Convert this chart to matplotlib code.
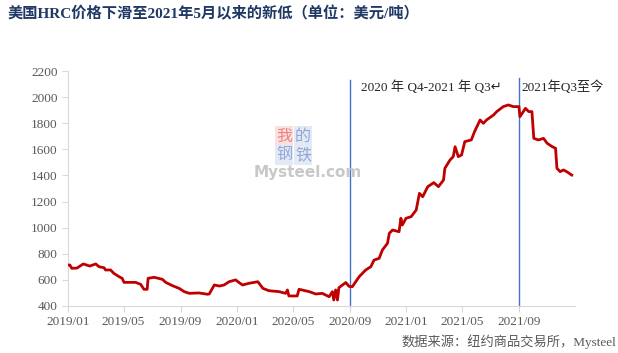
import matplotlib
matplotlib.use("Agg")
import matplotlib.pyplot as plt
import matplotlib.dates as mdates
import pandas as pd

# ---- data ----
dates = ["2019-01-01","2019-01-05","2019-01-09","2019-01-20","2019-02-03","2019-02-17","2019-03-02",
         "2019-03-09","2019-03-20","2019-03-23","2019-04-03","2019-04-10","2019-04-21","2019-04-28",
         "2019-05-02","2019-05-27","2019-06-07","2019-06-14","2019-06-21","2019-06-23","2019-07-06",
         "2019-07-24","2019-07-31","2019-08-15","2019-08-29","2019-09-09","2019-09-20","2019-10-11",
         "2019-10-29","2019-11-02","2019-11-13","2019-11-24","2019-12-04","2019-12-15","2019-12-29",
         "2020-01-06","2020-01-13","2020-01-27","2020-02-15","2020-02-26","2020-03-10","2020-04-01",
         "2020-04-15","2020-04-19","2020-04-22","2020-05-10","2020-05-14","2020-06-05","2020-06-19",
         "2020-07-03","2020-07-18","2020-07-25","2020-07-28","2020-08-01","2020-08-05","2020-08-08",
         "2020-08-23","2020-08-30","2020-09-06","2020-09-21","2020-10-05","2020-10-16","2020-10-23",
         "2020-11-03","2020-11-10","2020-11-21","2020-11-25","2020-12-02","2020-12-16","2020-12-20",
         "2020-12-23","2020-12-31","2021-01-11","2021-01-22","2021-01-29","2021-02-05","2021-02-16",
         "2021-03-01","2021-03-11","2021-03-22","2021-03-25","2021-04-05","2021-04-12","2021-04-16",
         "2021-04-23","2021-04-30","2021-05-07","2021-05-21","2021-05-28","2021-06-09","2021-06-16",
         "2021-06-23","2021-07-08","2021-07-15","2021-07-29","2021-08-09","2021-08-20","2021-09-01",
         "2021-09-03","2021-09-08","2021-09-15","2021-09-22","2021-09-29","2021-10-03","2021-10-13",
         "2021-10-24","2021-11-01","2021-11-12","2021-11-19","2021-11-22","2021-11-29","2021-12-06",
         "2021-12-13","2021-12-24"]
prices = [714,714,689,690,722,706,722,
          701,693,676,676,650,625,612,
          581,581,566,528,528,612,620,
          604,581,555,535,510,497,500,
          490,492,561,553,561,586,600,
          578,561,574,586,535,517,510,
          497,523,477,477,528,510,492,
          497,471,510,446,523,446,540,
          580,550,548,625,676,701,752,
          765,829,880,957,982,969,1072,
          1020,1072,1084,1135,1263,1237,1314,
          1345,1314,1365,1455,1518,1544,1620,
          1544,1557,1659,1672,1735,1825,1799,
          1825,1863,1889,1927,1940,1927,1927,
          1850,1876,1914,1889,1889,1684,1672,
          1684,1646,1620,1608,1455,1429,1442,
          1429,1403]
divider_dates = ["2020-09-01", "2021-09-01"]
period_labels = ["2020 年 Q4-2021 年 Q3↵", "2021年Q3至今"]
yticks = [400, 600, 800, 1000, 1200, 1400, 1600, 1800, 2000, 2200]
xtick_dates = ["2019-01-01","2019-05-01","2019-09-01","2020-01-01","2020-05-01",
               "2020-09-01","2021-01-01","2021-05-01","2021-09-01"]
title = "美国HRC价格下滑至2021年5月以来的新低（单位：美元/吨）"
source = "数据来源：纽约商品交易所，Mysteel"

serif = ["Liberation Serif", "Noto Sans CJK SC", "DejaVu Sans"]
plt.rcParams['font.family'] = serif

W, H = 618, 353
fig = plt.figure(figsize=(W/100, H/100), dpi=100)
ax = fig.add_axes([68/W, (H-306)/H, (575-68)/W, (306-71)/H])

d = pd.to_datetime(dates)
ax.plot(d, prices, color="#C00000", lw=2.0, zorder=3)

ax.set_ylim(400, 2200)
ax.set_xlim(pd.Timestamp("2019-01-01"), pd.Timestamp("2021-12-31"))
ax.set_yticks(yticks)
ax.set_xticks(pd.to_datetime(xtick_dates))
ax.xaxis.set_major_formatter(mdates.DateFormatter("%Y/%m"))
ax.tick_params(axis="both", colors="#D9D9D9", labelcolor="#595959", labelsize=9.5, length=4, width=0.8)
ax.tick_params(axis="x", pad=3)
for s in ["top", "right"]:
    ax.spines[s].set_visible(False)
for s in ["left", "bottom"]:
    ax.spines[s].set_color("#D9D9D9")
    ax.spines[s].set_linewidth(0.8)

# divider lines
tops = [2130, 2150]
for dd, tp in zip(divider_dates, tops):
    t = pd.Timestamp(dd)
    ax.plot([t, t], [400, tp], color="#4472C4", lw=1.0, zorder=2, clip_on=False)

# period labels
ax.text(pd.Timestamp("2020-09-25"), 2075, period_labels[0], fontsize=9.5, color="#262626",
        ha="left", va="center", family=serif)
ax.text(pd.Timestamp("2021-09-06"), 2075, period_labels[1], fontsize=9.5, color="#262626",
        ha="left", va="center", family=serif, clip_on=False)

# watermark
def px(x, y):
    return x/W, 1 - y/H
for ch, (x, y), fg, bg in [("我", (284, 136), "#F08080", "#FBE0E0"),
                           ("的", (303, 136), "#8FA8D8", "#E3EAF6"),
                           ("钢", (284, 155), "#8FA8D8", "#E3EAF6"),
                           ("铁", (303, 155), "#8FA8D8", "#E3EAF6")]:
    fig.text(*px(x, y), ch, fontsize=11.5, color=fg, ha="center", va="center",
             family=["Noto Sans CJK SC"],
             bbox=dict(boxstyle="square,pad=0.08", fc=bg, ec="none"))
fig.text(*px(308, 173), "Mysteel.com", fontsize=11, color="#C8C8C8", ha="center", va="center",
         family=["DejaVu Sans"], fontweight="bold")

# title & source
fig.text(8/W, 1 - 14/H, title, fontsize=11, fontweight="bold", color="#1F3864",
         ha="left", va="center", family=serif)
fig.text(616/W, 1 - 342/H, source, fontsize=9.5, color="#595959",
         ha="right", va="center", family=serif)

fig.savefig("out.png", dpi=100)
